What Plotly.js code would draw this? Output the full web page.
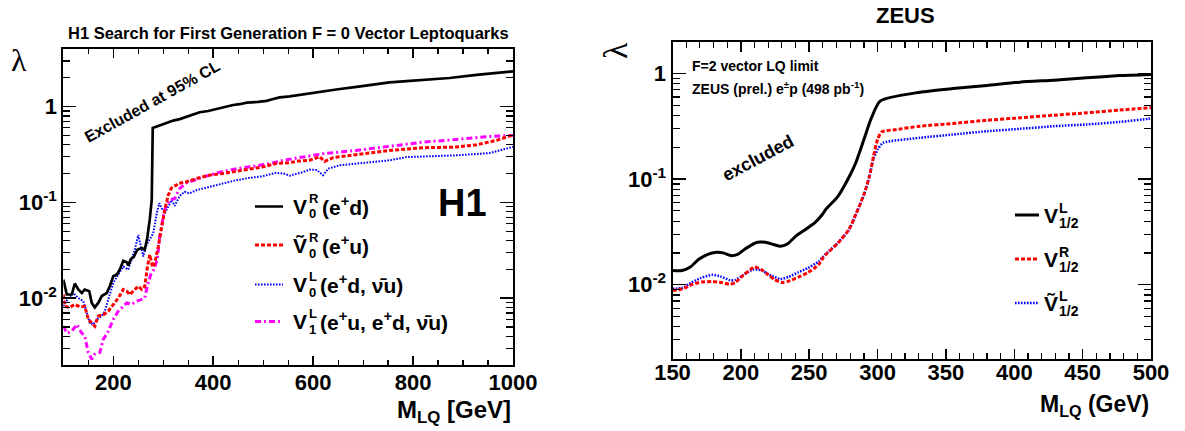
<!DOCTYPE html>
<html>
<head>
<meta charset="utf-8">
<script src="https://cdn.plot.ly/plotly-3.0.1.min.js"></script>
<style>html,body{margin:0;padding:0;background:#fff;}#chart{width:1185px;height:431px;}</style>
</head>
<body>
<div id="chart"></div>
<script>
// ---------------- H1 panel data (F = 0 vector LQ limits) ----------------
const h1Mass_V0R = [100,107,117,123,130,137,143,152,157,163,170,177,187,193,200,207,213,220,227,230,235,241,248,257,263,268,273,277,279,293,306,320,333,347,360,373,390,407,423,440,453,467,490,507,520,533,553,573,593,620,650,687,720,753,787,820,873,927,960,993,1000];
const h1Lam_V0R = [0.0156,0.0109,0.0109,0.0142,0.0123,0.0113,0.0123,0.0118,0.0089,0.0080,0.0089,0.0105,0.0113,0.0133,0.0169,0.0176,0.0198,0.0245,0.0236,0.0219,0.0255,0.0269,0.032,0.0333,0.032,0.0423,0.066,0.106,0.6,0.635,0.68,0.715,0.74,0.787,0.82,0.873,0.9,0.947,1.0,1.04,1.06,1.10,1.12,1.15,1.2,1.25,1.28,1.33,1.37,1.44,1.52,1.61,1.7,1.79,1.85,1.90,1.99,2.15,2.23,2.31,2.34];

const h1Mass_V0Rt = [100,103,113,123,133,143,150,157,163,170,180,190,200,210,220,227,233,240,250,257,263,268,273,279,283,290,297,303,310,316,320,326,330,339,345,366,392,419,445,472,498,525,553,570,593,613,623,640,687,753,820,887,927,967,997,1000];
const h1Lam_V0Rt = [0.0109,0.0082,0.0080,0.0086,0.0081,0.0082,0.0060,0.0055,0.0051,0.0065,0.0067,0.0073,0.0086,0.010,0.0123,0.0118,0.0109,0.0118,0.0133,0.0123,0.0133,0.0206,0.0284,0.021,0.023,0.0346,0.056,0.083,0.119,0.14,0.146,0.151,0.158,0.16,0.163,0.177,0.192,0.20,0.211,0.225,0.234,0.254,0.26,0.27,0.275,0.30,0.268,0.293,0.315,0.349,0.372,0.378,0.40,0.444,0.50,0.51];

const h1Mass_V0L = [100,110,120,130,140,147,153,160,167,177,183,190,200,210,220,230,237,243,250,255,260,265,273,280,287,292,297,303,310,317,323,333,343,352,366,392,419,445,472,498,525,541,553,580,593,607,620,630,653,687,753,787,820,887,953,997,1000];
const h1Lam_V0L = [0.0082,0.010,0.0113,0.010,0.0093,0.0070,0.0055,0.0053,0.006,0.0065,0.0073,0.0097,0.0144,0.0176,0.0214,0.0198,0.0251,0.032,0.0457,0.036,0.0272,0.0346,0.0407,0.0477,0.0768,0.098,0.087,0.077,0.09,0.106,0.092,0.117,0.129,0.124,0.134,0.145,0.157,0.170,0.18,0.187,0.203,0.2,0.19,0.207,0.22,0.218,0.192,0.225,0.244,0.254,0.275,0.297,0.30,0.31,0.327,0.378,0.38];

const h1Mass_V1L = [100,107,117,127,137,143,150,157,163,173,180,190,200,210,220,227,237,247,257,263,268,275,281,288,293,300,305,313,323,333,347,360,380,413,447,480,513,547,570,620,687,753,820,887,953,1000];
const h1Lam_V1L = [0.0051,0.0043,0.0045,0.0053,0.0043,0.0040,0.0027,0.0023,0.0026,0.0027,0.0037,0.0045,0.0060,0.0073,0.0082,0.0089,0.0086,0.0093,0.0097,0.010,0.0133,0.0176,0.0198,0.0251,0.044,0.071,0.090,0.106,0.11,0.14,0.16,0.17,0.184,0.207,0.225,0.238,0.254,0.279,0.293,0.322,0.349,0.387,0.426,0.454,0.488,0.50];

// ---------------- ZEUS panel data (F = 2 vector LQ limits) ----------------
const zeusMass_VL = [150,157,163,169,175,181,187,193,198,204,212,218,224,229,234,240,247,254,260,262,271,280,284,290,295,302,331,355,380,404,429,453,477,500];
const zeusLam_VL = [0.0136,0.0136,0.0147,0.0173,0.0192,0.0202,0.020,0.0188,0.0195,0.0222,0.0252,0.0252,0.024,0.0231,0.0243,0.0287,0.0332,0.0385,0.047,0.0514,0.0687,0.11,0.142,0.237,0.366,0.55,0.665,0.72,0.77,0.828,0.865,0.91,0.955,0.98];

const zeusMass_VR = [150,157,164,171,179,186,192,196,202,207,210,215,220,225,230,235,242,249,257,260,262,271,279,284,290,294,297,300,303,314,331,355,380,404,429,453,477,500];
const zeusLam_VR = [0.00883,0.0091,0.010,0.0106,0.0107,0.0105,0.0101,0.0105,0.0124,0.0139,0.0147,0.0139,0.0124,0.0111,0.0105,0.0108,0.0118,0.013,0.0155,0.0179,0.0192,0.0248,0.0332,0.046,0.0713,0.106,0.164,0.237,0.28,0.295,0.317,0.336,0.361,0.38,0.403,0.424,0.45,0.475];

const zeusMass_VLt = [150,157,164,171,179,185,192,196,202,209,215,221,229,235,242,249,257,260,262,271,279,284,290,294,297,300,304,331,355,380,404,429,453,477,498,500];
const zeusLam_VLt = [0.00916,0.0093,0.0105,0.0116,0.0124,0.012,0.011,0.0111,0.0124,0.0139,0.0137,0.0124,0.0113,0.0119,0.0131,0.0144,0.0166,0.0183,0.0195,0.025,0.033,0.046,0.071,0.105,0.155,0.19,0.22,0.246,0.264,0.284,0.299,0.317,0.329,0.348,0.372,0.375];

// ---------------- tick labels ----------------
const yMajorVals = [0.01, 0.1, 1];
const yMajorText = ['10<sup>-2</sup>', '10<sup>-1</sup>', '1'];
const h1XTicks = [200, 400, 600, 800, 1000];
const zeusXTicks = [150, 200, 250, 300, 350, 400, 450, 500];

// ---------------- styling / layout ----------------
const W = 1185, H = 431;
const FONT = 'Liberation Sans, Arial, Helvetica, sans-serif';
const SERIF = 'Liberation Serif, DejaVu Serif, Times New Roman, serif';
const RED = '#ff0000', BLUE = '#0000ff', MAG = '#ff00ff';

const minorY = [];
for (let d = -3; d <= 0; d++) for (let k = 2; k <= 9; k++) minorY.push(+(k * Math.pow(10, d)).toPrecision(3));

function xAxis(domain, range, tickvals, minorDtick, anchor, majLen, minLen, standoff) {
  return {
    domain: domain, range: range, anchor: anchor,
    tickmode: 'array', tickvals: tickvals,
    ticks: 'inside', ticklen: majLen, tickwidth: 1.5, tickcolor: '#000',
    showline: true, linewidth: 2, linecolor: '#000', mirror: 'allticks',
    showgrid: false, zeroline: false, ticklabelstandoff: standoff,
    tickfont: {family: FONT, size: 22, color: '#000', weight: 'bold'},
    minor: {dtick: minorDtick, tick0: 0, ticks: 'inside', ticklen: minLen, tickwidth: 1.2, tickcolor: '#000', showgrid: false}
  };
}
function yAxis(domain, range, anchor) {
  return {
    domain: domain, type: 'log', range: range, anchor: anchor,
    tickmode: 'array', tickvals: yMajorVals, ticktext: yMajorText,
    ticks: 'inside', ticklen: 13, tickwidth: 1.5, tickcolor: '#000',
    showline: true, linewidth: 2, linecolor: '#000', mirror: 'allticks',
    showgrid: false, zeroline: false,
    tickfont: {family: FONT, size: 22, color: '#000', weight: 'bold'},
    minor: {tickmode: 'array', tickvals: minorY, ticks: 'inside', ticklen: 7, tickwidth: 1.2, tickcolor: '#000', showgrid: false}
  };
}

function tr(x, y, xa, ya, color, width, dash, shape) {
  return {x: x, y: y, xaxis: xa, yaxis: ya, type: 'scatter', mode: 'lines',
          line: {color: color, width: width, dash: dash, shape: shape || 'linear', smoothing: 0.6},
          hoverinfo: 'skip'};
}

const DASH_R = '4px,2px', DOT_B = '1.6px,1.4px', DASHDOT_M = '6px,3px,2px,3px';

const data = [
  tr(h1Mass_V0L, h1Lam_V0L, 'x', 'y', BLUE, 2, DOT_B),
  tr(h1Mass_V1L, h1Lam_V1L, 'x', 'y', MAG, 3, DASHDOT_M),
  tr(h1Mass_V0Rt, h1Lam_V0Rt, 'x', 'y', RED, 3, DASH_R),
  tr(h1Mass_V0R, h1Lam_V0R, 'x', 'y', '#000', 2.7, 'solid'),
  tr(zeusMass_VLt, zeusLam_VLt, 'x2', 'y2', BLUE, 2.5, DOT_B, 'spline'),
  tr(zeusMass_VR, zeusLam_VR, 'x2', 'y2', RED, 3, DASH_R, 'spline'),
  tr(zeusMass_VL, zeusLam_VL, 'x2', 'y2', '#000', 3, 'solid', 'spline')
];

function ann(text, x, y, size, o) {
  o = o || {};
  return {text: text, x: x / W, y: 1 - y / H, xref: 'paper', yref: 'paper',
          xanchor: o.xa || 'left', yanchor: o.ya || 'middle', showarrow: false,
          textangle: o.angle || 0,
          font: {family: o.family || FONT, size: size, color: '#000', weight: o.weight || 'bold'}};
}
function seg(x0, x1, y, color, width, dash) {
  return {type: 'line', xref: 'paper', yref: 'paper', x0: x0 / W, x1: x1 / W, y0: 1 - y / H, y1: 1 - y / H,
          line: {color: color, width: width, dash: dash}};
}
// legend entry with stacked super/subscripts
function entry(list, main, sup, sub, rest, x, y, mainSize, smallSize, subDx, restX) {
  list.push(ann(main, x, y, mainSize));
  list.push(ann(sup, x + subDx, y - 7.5, smallSize));
  list.push(ann(sub, x + subDx, y + 8, smallSize));
  if (rest) list.push(ann(rest, restX, y, mainSize));
}

const annotations = [];
// H1 panel
annotations.push(ann('H1 Search for First Generation F = 0 Vector Leptoquarks', 288, 33, 16.5, {xa: 'center'}));
annotations.push(ann('λ', 19, 60, 32, {xa: 'center', family: SERIF, weight: 'normal'}));
annotations.push(ann('Excluded at 95% CL', 152, 101, 16, {xa: 'center', angle: -29}));
annotations.push(ann('H1', 462, 203, 38, {xa: 'center'}));
annotations.push(ann('M<sub>LQ</sub> [GeV]', 513, 411, 24, {xa: 'right'}));
entry(annotations, 'V', 'R', '0', '(e<sup>+</sup>d)', 291, 206, 21, 13, 16, 320);
entry(annotations, 'Ṽ', 'R', '0', '(e<sup>+</sup>u)', 291, 245, 21, 13, 16, 320);
entry(annotations, 'V', 'L', '0', '(e<sup>+</sup>d, ν̄u)', 291, 284, 21, 13, 16, 318);
entry(annotations, 'V', 'L', '1', '(e<sup>+</sup>u, e<sup>+</sup>d, ν̄u)', 291, 321, 21, 13, 16, 318);
// ZEUS panel
annotations.push(ann('ZEUS', 905, 15, 22, {xa: 'center'}));
annotations.push(ann('λ', 616, 51, 34, {xa: 'center', family: SERIF, weight: 'normal', angle: -90}));
annotations.push(ann('F=2 vector LQ limit', 690, 66, 14));
annotations.push(ann('ZEUS (prel.) e<sup>±</sup>p (498 pb<sup>-1</sup>)', 690, 88, 14));
annotations.push(ann('excluded', 758, 158, 18, {xa: 'center', angle: -28}));
annotations.push(ann('M<sub>LQ</sub> (GeV)', 1151, 405, 23, {xa: 'right'}));
entry(annotations, 'V', 'L', '1/2', null, 1042, 215, 21, 14, 15, 0);
entry(annotations, 'V', 'R', '1/2', null, 1042, 259, 21, 14, 15, 0);
entry(annotations, 'Ṽ', 'L', '1/2', null, 1042, 303, 21, 14, 15, 0);

const shapes = [
  seg(255, 283, 206.5, '#000', 2.5, 'solid'),
  seg(255, 283, 245, RED, 3, DASH_R),
  seg(255, 283, 284.5, BLUE, 2, DOT_B),
  seg(255, 283, 321.5, MAG, 3, DASHDOT_M),
  seg(1015, 1039, 215, '#000', 3, 'solid'),
  seg(1015, 1039, 259, RED, 3, DASH_R),
  seg(1015, 1039, 303, BLUE, 2.5, DOT_B)
];

const layout = {
  width: W, height: H,
  margin: {l: 0, r: 0, t: 0, b: 0},
  paper_bgcolor: '#fff', plot_bgcolor: '#fff',
  showlegend: false,
  xaxis: xAxis([63.3 / W, 513 / W], [100, 1000], h1XTicks, 50, 'y', 9, 5, -3),
  yaxis: yAxis([1 - 365 / H, 1 - 49 / H], [Math.log10(0.002), Math.log10(4)], 'x'),
  xaxis2: xAxis([672.5 / W, 1151 / W], [150, 500], zeusXTicks, 10, 'y2', 10, 6, -7),
  yaxis2: yAxis([1 - 358.5 / H, 1 - 41.7 / H], [Math.log10(0.002), Math.log10(2)], 'x2'),
  annotations: annotations,
  shapes: shapes
};

Plotly.newPlot('chart', data, layout, {staticPlot: true, displayModeBar: false});
</script>
</body>
</html>
